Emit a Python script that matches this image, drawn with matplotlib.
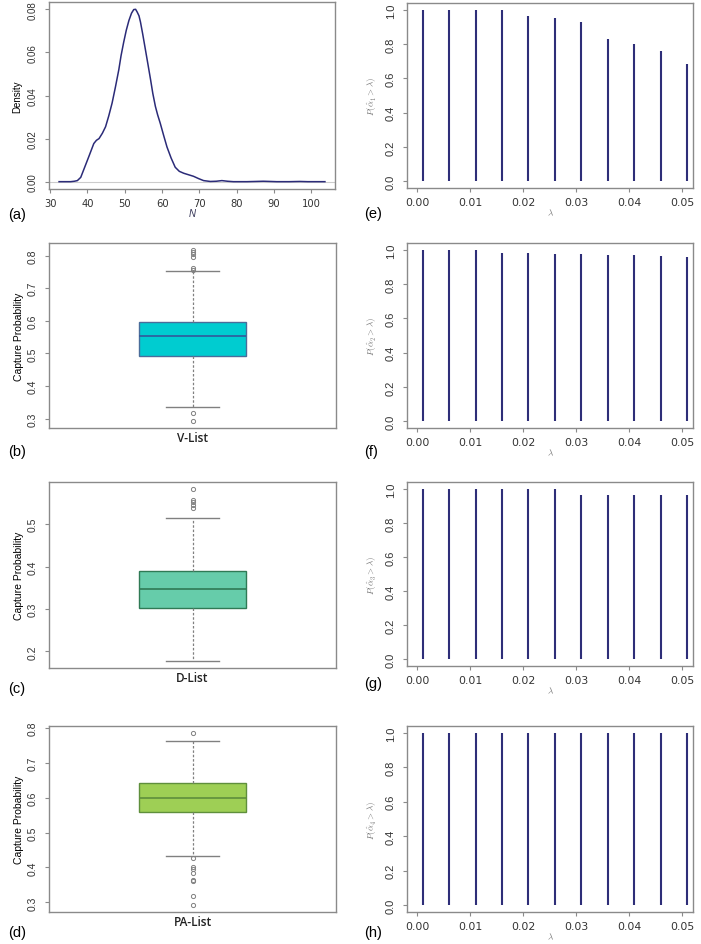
import numpy as np
import matplotlib
matplotlib.use("Agg")
import matplotlib.pyplot as plt

plt.rcParams['font.family'] = ['Liberation Sans', 'DejaVu Sans']
plt.rcParams['mathtext.fontset'] = 'cm'

W, H = 701, 945

# (a) density of N
dens_x = [32.4, 34.5, 35.5, 36.5, 37.3, 38.2, 39.1, 40.4, 41.7, 42.4, 43.1, 44.0, 44.85,
          45.7, 46.6, 47.5, 48.4, 49.0, 49.7, 50.4, 51.1, 51.8, 52.4, 52.9, 53.3, 53.8,
          54.2, 54.8, 55.5, 56.2, 56.9, 57.5, 58.2, 58.8, 59.5, 60.4, 61.3, 62.4, 63.5,
          64.6, 65.8, 67.1, 68.4, 69.8, 71.1, 72.9, 74.5, 76.0, 77.5, 79.1, 82.7, 85.0,
          87.1, 89.0, 90.7, 94.0, 96.9, 99.0, 103.6]
dens_y = [0.0, 0.0, 0.0, 0.0002, 0.0005, 0.002, 0.006, 0.0118, 0.0177, 0.0192, 0.020,
          0.0225, 0.0255, 0.0305, 0.0365, 0.0440, 0.052, 0.0585, 0.0647, 0.0703, 0.0748,
          0.0782, 0.0799, 0.0800, 0.0788, 0.0770, 0.0741, 0.0685, 0.0615, 0.0545, 0.0474,
          0.0410, 0.0349, 0.0310, 0.0271, 0.0215, 0.0161, 0.0110, 0.0067, 0.0048, 0.0039,
          0.0032, 0.0025, 0.0014, 0.0005, 0.0001, 0.0002, 0.0005, 0.0002, 0.0, 0.0, 0.0001,
          0.0002, 0.0001, 0.0, 0.0, 0.0001, 0.0, 0.0]

# (b)-(d) box plot summaries
box_names = ['V-List', 'D-List', 'PA-List']
box_q1 = [0.491, 0.303, 0.558]
box_med = [0.552, 0.346, 0.600]
box_q3 = [0.597, 0.390, 0.643]
box_lo = [0.335, 0.177, 0.434]
box_hi = [0.752, 0.514, 0.763]
box_fliers = [
    [0.818, 0.811, 0.804, 0.797, 0.761, 0.757, 0.318, 0.292],
    [0.583, 0.557, 0.553, 0.545, 0.539],
    [0.786, 0.426, 0.400, 0.395, 0.383, 0.363, 0.360, 0.317, 0.292],
]
box_fill = ['#00ccd0', '#66ccaa', '#9ecf55']
box_edge = ['#4a6d9a', '#2f7a55', '#5f8f3c']
box_med_col = ['#33589a', '#2f7a55', '#5f8f3c']
box_yticks = [[0.3, 0.4, 0.5, 0.6, 0.7, 0.8], [0.2, 0.3, 0.4, 0.5], [0.3, 0.4, 0.5, 0.6, 0.7, 0.8]]

# (e)-(h) P(alpha_hat > lambda)
lam = [0.001, 0.006, 0.011, 0.016, 0.021, 0.026, 0.031, 0.036, 0.041, 0.046, 0.051]
p_alpha1 = [1.0, 1.0, 0.997, 0.997, 0.966, 0.952, 0.932, 0.830, 0.803, 0.757, 0.684]
p_alpha2 = [1.0, 1.0, 1.0, 0.980, 0.979, 0.977, 0.973, 0.969, 0.968, 0.967, 0.961]
p_alpha3 = [1.0, 1.0, 1.0, 1.0, 1.0, 1.0, 0.963, 0.963, 0.963, 0.963, 0.963]
p_alpha4 = [1.0, 1.0, 1.0, 1.0, 1.0, 1.0, 1.0, 1.0, 1.0, 1.0, 1.0]
p_series = [p_alpha1, p_alpha2, p_alpha3, p_alpha4]

fig = plt.figure(figsize=(W / 100, H / 100), dpi=100)


def ax_px(l, t, r, b):
    return fig.add_axes([l / W, 1 - b / H, (r - l) / W, (b - t) / H])


def style(ax, ysize=7.5):
    for s in ax.spines.values():
        s.set_color('#8a8a8a')
        s.set_linewidth(1.0)
    ax.tick_params(colors='#8a8a8a', length=3, width=0.8, labelcolor='#333333')
    ax.tick_params(axis='y', pad=5)
    for lab in ax.get_yticklabels():
        lab.set_rotation(90)
        lab.set_va('center')
        lab.set_fontsize(ysize)


# ---- (a) density
ax = ax_px(49, 3, 335, 190)
ax.axhline(0, color='#cccccc', lw=0.8)
ax.plot(dens_x, dens_y, color='#2b2b78', lw=1.1)
ax.set_xlim(29.7, 106.3)
ax.set_ylim(-0.0034, 0.0834)
ax.set_xticks(range(30, 101, 10))
ax.set_yticks([0, 0.02, 0.04, 0.06, 0.08])
ax.set_yticklabels(['0.00', '0.02', '0.04', '0.06', '0.08'])
ax.set_xticklabels([str(v) for v in range(30, 101, 10)], family='DejaVu Sans', fontsize=7.2)
style(ax, 7)
ax.set_ylabel('Density', fontsize=7, labelpad=4)
ax.set_xlabel('N', fontsize=7, style='italic', color='#333355', labelpad=0)
fig.text(8 / W, 1 - 215 / H, '(a)', fontsize=10.5, va='center')

# ---- (b)-(d) box plots
box_px = [(244, 429), (483, 669), (727, 913)]
box_letters = ['(b)', '(c)', '(d)']
letter_y = [452, 689, 933]
for i in range(3):
    t, b = box_px[i]
    ax = ax_px(49, t, 336, b)
    stats = [{'med': box_med[i], 'q1': box_q1[i], 'q3': box_q3[i],
              'whislo': box_lo[i], 'whishi': box_hi[i], 'fliers': box_fliers[i]}]
    ax.bxp(stats, positions=[1], widths=0.373, capwidths=0.185, patch_artist=True,
           boxprops=dict(facecolor=box_fill[i], edgecolor=box_edge[i], lw=1.0),
           medianprops=dict(color=box_med_col[i], lw=1.2),
           whiskerprops=dict(color='#808080', lw=0.9, ls=(0, (2, 1.5))),
           capprops=dict(color='#808080', lw=1.0),
           flierprops=dict(marker='o', markersize=3, markerfacecolor='none',
                           markeredgecolor='#808080', markeredgewidth=0.7))
    vals = box_fliers[i] + [box_lo[i], box_hi[i]]
    lo, hi = min(vals), max(vals)
    pad = (hi - lo) * 0.04
    ax.set_ylim(lo - pad, hi + pad)
    ax.set_xlim(0.5, 1.5)
    ax.set_xticks([])
    ax.set_yticks(box_yticks[i])
    style(ax, 7.5)
    ax.set_ylabel('Capture Probability', fontsize=7.5, labelpad=3)
    ax.set_xlabel(box_names[i], fontsize=8.5, family='Open Sans', weight='semibold',
                  color='#222222', labelpad=2)
    fig.text(8 / W, 1 - letter_y[i] / H, box_letters[i], fontsize=10.5, va='center')

# ---- (e)-(h) P(alpha > lambda)
right_px = [(4, 189), (244, 429), (483, 667), (727, 913)]
right_letters = ['(e)', '(f)', '(g)', '(h)']
right_letter_y = [214, 452, 684, 933]
for i in range(4):
    t, b = right_px[i]
    ax = ax_px(407, t, 693, b)
    ax.vlines(lam, 0, p_series[i], color='#2e2e78', lw=1.5)
    ax.set_xlim(-0.00195, 0.0521)
    ax.set_ylim(-0.04, 1.04)
    ax.set_xticks([0, 0.01, 0.02, 0.03, 0.04, 0.05])
    ax.set_xticklabels(['0.00', '0.01', '0.02', '0.03', '0.04', '0.05'],
                       family='DejaVu Sans', fontsize=7.8)
    ax.set_yticks([0, 0.2, 0.4, 0.6, 0.8, 1.0])
    ax.set_yticklabels(['0.0', '0.2', '0.4', '0.6', '0.8', '1.0'])
    style(ax, 8)
    ax.set_ylabel(r'$P(\hat{\alpha}_%d > \lambda)$' % (i + 1), fontsize=6.5,
                  color='#777777', labelpad=5)
    ax.set_xlabel(r'$\lambda$', fontsize=6.5, color='#777777', labelpad=0)
    fig.text(364 / W, 1 - right_letter_y[i] / H, right_letters[i], fontsize=10.5, va='center')

fig.savefig('out.png', dpi=100)
